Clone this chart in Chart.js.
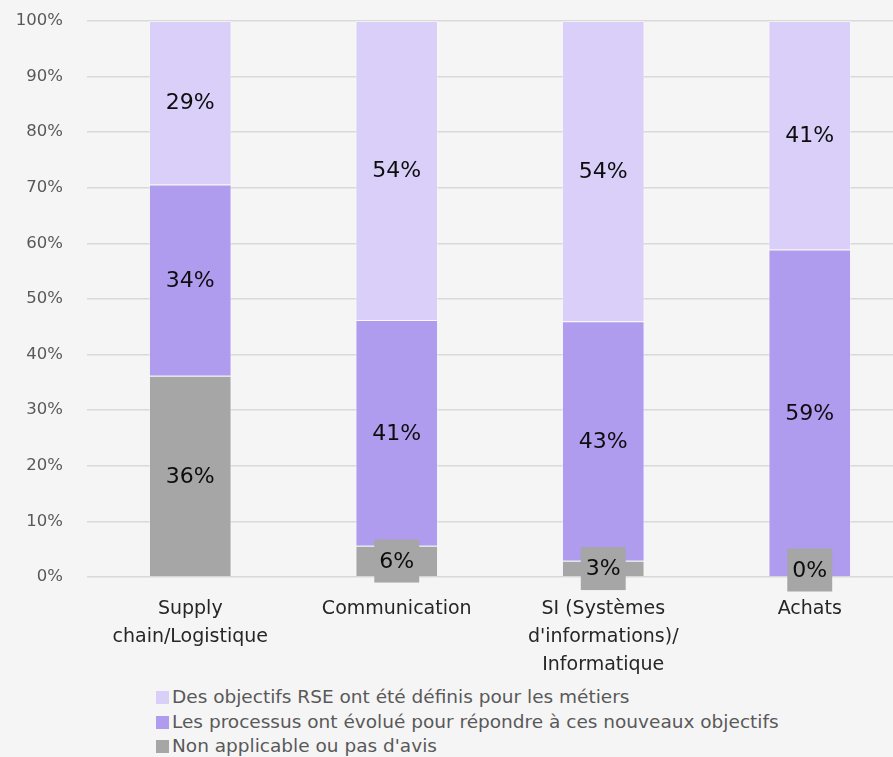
<!DOCTYPE html>
<html>
<head>
<meta charset="utf-8">
<script src="https://cdn.jsdelivr.net/npm/chart.js@4"></script>
<style>
  html, body { margin: 0; padding: 0; background: #f5f5f5; overflow: hidden; }
  #wrap { position: relative; width: 913px; height: 693px; margin-top: -13px; }
  #legend { position: absolute; left: 156px; top: 685px; font-family: "DejaVu Sans", sans-serif; font-size: 18.5px; color: #595959; }
  #legend div { height: 24.5px; line-height: 24.5px; white-space: nowrap; }
  #legend span.box { display: inline-block; width: 13px; height: 13px; margin-right: 3px; vertical-align: -1px; }
</style>
</head>
<body>
<div id="wrap"><canvas id="chart"></canvas></div>
<div id="legend"></div>
<script>
// categories and values (segment heights, labels are rounded)
var categories = [
   ['Supply', 'chain/Logistique'],
   'Communication',
   ['SI (Systèmes', "d'informations)/", 'Informatique'],
   'Achats'
];
var seriesNames = [
   "Non applicable ou pas d'avis",
   'Les processus ont évolué pour répondre à ces nouveaux objectifs',
   'Des objectifs RSE ont été définis pour les métiers'
];
var nonApplicable = [36.2, 5.6, 2.9, 0];
var processus = [34.4, 40.6, 43.1, 58.9];
var objectifs = [29.4, 53.8, 54.0, 41.1];
var yTicks = [0, 10, 20, 30, 40, 50, 60, 70, 80, 90, 100];

var colors = ['#a6a6a6', '#b09cef', '#d9cff8'];

// draw the % value in each segment, gray series gets its own box
var valueLabels = {
   id: 'valueLabels',
   afterDatasetsDraw: function (chart) {
      var ctx = chart.ctx;
      var bottom = chart.chartArea.bottom;
      ctx.save();
      ctx.font = '22px "DejaVu Sans", sans-serif';
      ctx.textAlign = 'center';
      ctx.textBaseline = 'middle';
      chart.data.datasets.forEach(function (ds, i) {
         var meta = chart.getDatasetMeta(i);
         meta.data.forEach(function (bar, j) {
            var txt = Math.round(ds.data[j]) + '%';
            var cy = (bar.y + bar.base) / 2;
            if (i === 0) {
               cy = Math.min(cy, bottom - 7);
               var w = ctx.measureText(txt).width + 10;
               ctx.fillStyle = colors[0];
               ctx.fillRect(bar.x - w / 2, cy - 21.5, w, 43);
            }
            ctx.fillStyle = '#0d0d0d';
            ctx.fillText(txt, bar.x, cy + 1);
         });
      });
      ctx.restore();
   }
};

var ctx = document.getElementById('chart').getContext('2d');
var chart = new Chart(ctx, {
   type: 'bar',
   data: {
      labels: categories,
      datasets: [
         { label: seriesNames[0], data: nonApplicable, backgroundColor: colors[0] },
         { label: seriesNames[1], data: processus, backgroundColor: colors[1] },
         { label: seriesNames[2], data: objectifs, backgroundColor: colors[2] }
      ].map(function (d) {
         d.barPercentage = 0.4;
         d.categoryPercentage = 1;
         d.borderWidth = 1;
         d.borderColor = 'rgba(255,255,255,0.35)';
         return d;
      })
   },
   options: {
      responsive: true,
      maintainAspectRatio: false,
      animation: false,
      layout: { padding: { top: 7, right: 0, left: 0, bottom: 0 } },
      plugins: {
         legend: { display: false },
         tooltip: { enabled: false }
      },
      scales: {
         x: {
            stacked: true,
            grid: { display: false },
            border: { display: false },
            ticks: {
               padding: 10,
               color: '#262626',
               maxRotation: 0,
               autoSkip: false,
               font: { family: '"DejaVu Sans", sans-serif', size: 19, lineHeight: 1.47 }
            },
            afterFit: function (scale) { scale.height = 103; }
         },
         y: {
            stacked: true,
            min: 0,
            max: 100,
            grid: { color: '#d9d9d9', lineWidth: 1.5, drawTicks: false },
            border: { display: false },
            afterBuildTicks: function (scale) {
               scale.ticks = yTicks.map(function (v) { return { value: v }; });
            },
            ticks: {
               padding: 24,
               color: '#595959',
               font: { family: '"DejaVu Sans", sans-serif', size: 16.5 },
               callback: function (v) { return v + '%'; }
            },
            afterFit: function (scale) { scale.width = 87; }
         }
      }
   },
   plugins: [valueLabels]
});

// legend, top series first
var legend = document.getElementById('legend');
chart.data.datasets.slice().reverse().forEach(function (ds) {
   var row = document.createElement('div');
   row.innerHTML = '<span class="box" style="background:' + ds.backgroundColor + '"></span>' + ds.label;
   legend.appendChild(row);
});
</script>
</body>
</html>
